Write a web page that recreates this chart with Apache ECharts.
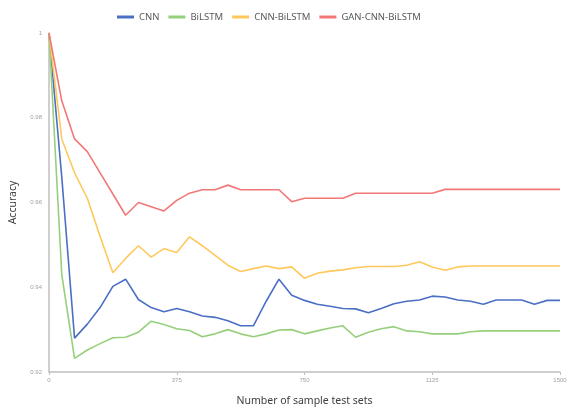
<!DOCTYPE html>
<html>
<head>
<meta charset="utf-8">
<script src="https://cdn.jsdelivr.net/npm/echarts@6/dist/echarts.min.js"></script>
<style>
  html, body { margin: 0; padding: 0; background: #fff; }
  #chart { width: 570px; height: 412px; }
</style>
</head>
<body>
<div id="chart"></div>
<script>
// Sample test set sizes (x positions)
const sampleSizes = [0, 37.5, 75, 112.5, 150, 187.5, 225, 262.5, 300, 337.5,
  375, 412.5, 450, 487.5, 525, 562.5, 600, 637.5, 675, 712.5,
  750, 787.5, 825, 862.5, 900, 937.5, 975, 1012.5, 1050, 1087.5,
  1125, 1162.5, 1200, 1237.5, 1275, 1312.5, 1350, 1387.5, 1425, 1462.5, 1500];

const seriesNames = ['CNN', 'BiLSTM', 'CNN-BiLSTM', 'GAN-CNN-BiLSTM'];

const cnn = [1.000, 0.966, 0.928, 0.9313, 0.9352, 0.9402, 0.9419, 0.9371, 0.9352, 0.9342,
  0.935, 0.9342, 0.9332, 0.9329, 0.9321, 0.9309, 0.9309, 0.9367, 0.9419, 0.9381,
  0.9369, 0.936, 0.9355, 0.935, 0.9349, 0.934, 0.935, 0.9361, 0.9367, 0.937,
  0.9379, 0.9377, 0.937, 0.9367, 0.936, 0.937, 0.937, 0.937, 0.936, 0.9369, 0.9369];

const bilstm = [1.000, 0.943, 0.9232, 0.9252, 0.9267, 0.9281, 0.9282, 0.9294, 0.932, 0.9312,
  0.9302, 0.9298, 0.9283, 0.929, 0.930, 0.929, 0.9283, 0.929, 0.9299, 0.9300,
  0.929, 0.9297, 0.9304, 0.9309, 0.9282, 0.9294, 0.9302, 0.9307, 0.9297, 0.9295,
  0.929, 0.929, 0.929, 0.9295, 0.9297, 0.9297, 0.9297, 0.9297, 0.9297, 0.9297, 0.9297];

const cnnBilstm = [1.000, 0.975, 0.967, 0.961, 0.952, 0.9434, 0.9468, 0.9498, 0.9471, 0.9491,
  0.9482, 0.9519, 0.9498, 0.9475, 0.9452, 0.9437, 0.9444, 0.945, 0.9444, 0.9448,
  0.9421, 0.9433, 0.9438, 0.9441, 0.9446, 0.9449, 0.9449, 0.9449, 0.9452, 0.946,
  0.9448, 0.944, 0.9448, 0.945, 0.945, 0.945, 0.945, 0.945, 0.945, 0.945, 0.945];

const ganCnnBilstm = [1.000, 0.984, 0.975, 0.972, 0.967, 0.962, 0.957, 0.960, 0.959, 0.958,
  0.9605, 0.9622, 0.963, 0.963, 0.9641, 0.963, 0.963, 0.963, 0.963, 0.9602,
  0.961, 0.961, 0.961, 0.961, 0.9622, 0.9622, 0.9622, 0.9622, 0.9622, 0.9622,
  0.9622, 0.9631, 0.9631, 0.9631, 0.9631, 0.9631, 0.9631, 0.9631, 0.9631, 0.9631, 0.9631];

const colors = ['#4a6fc4', '#96cf7c', '#ffc85c', '#f27777'];
const valueSets = [cnn, bilstm, cnnBilstm, ganCnnBilstm];

const chart = echarts.init(document.getElementById('chart'), null, { renderer: 'canvas' });

chart.setOption({
  animation: false,
  color: colors,
  legend: {
    top: 7,
    left: 112,
    itemWidth: 17,
    itemHeight: 3,
    itemGap: 9,
    icon: 'rect',
    textStyle: { fontSize: 9.5, color: '#595959', fontFamily: 'Noto Sans' },
    data: seriesNames
  },
  grid: { left: 47, right: 10, top: 33, bottom: 33, containLabel: false },
  xAxis: {
    type: 'value',
    min: 0,
    max: 1500,
    interval: 375,
    name: 'Number of sample test sets',
    nameLocation: 'middle',
    nameGap: 24,
    nameTextStyle: { fontSize: 10.5, color: '#404040', fontFamily: 'Noto Sans' },
    axisLine: { lineStyle: { color: '#bfbfbf', width: 1.5 } },
    axisTick: { show: true, length: 3, lineStyle: { color: '#bfbfbf' } },
    axisLabel: { fontSize: 6, color: '#a0a0a0', margin: 5, formatter: v => String(v) },
    splitLine: { show: false }
  },
  yAxis: {
    type: 'value',
    min: 0.92,
    max: 1,
    interval: 0.02,
    name: 'Accuracy',
    nameLocation: 'middle',
    nameGap: 30,
    nameRotate: 90,
    nameTextStyle: { fontSize: 10.5, color: '#404040', fontFamily: 'Noto Sans' },
    axisLine: { show: true, lineStyle: { color: '#bfbfbf', width: 1.5 } },
    axisTick: { show: false },
    axisLabel: {
      fontSize: 6, color: '#a0a0a0', margin: 7,
      formatter: v => (v === 1 ? '1' : v.toFixed(2))
    },
    splitLine: { show: false }
  },
  series: seriesNames.map((name, k) => ({
    name: name,
    type: 'line',
    symbol: 'none',
    lineStyle: { width: 1.6, color: colors[k] },
    data: sampleSizes.map((x, i) => [x, valueSets[k][i]])
  }))
});
</script>
</body>
</html>
